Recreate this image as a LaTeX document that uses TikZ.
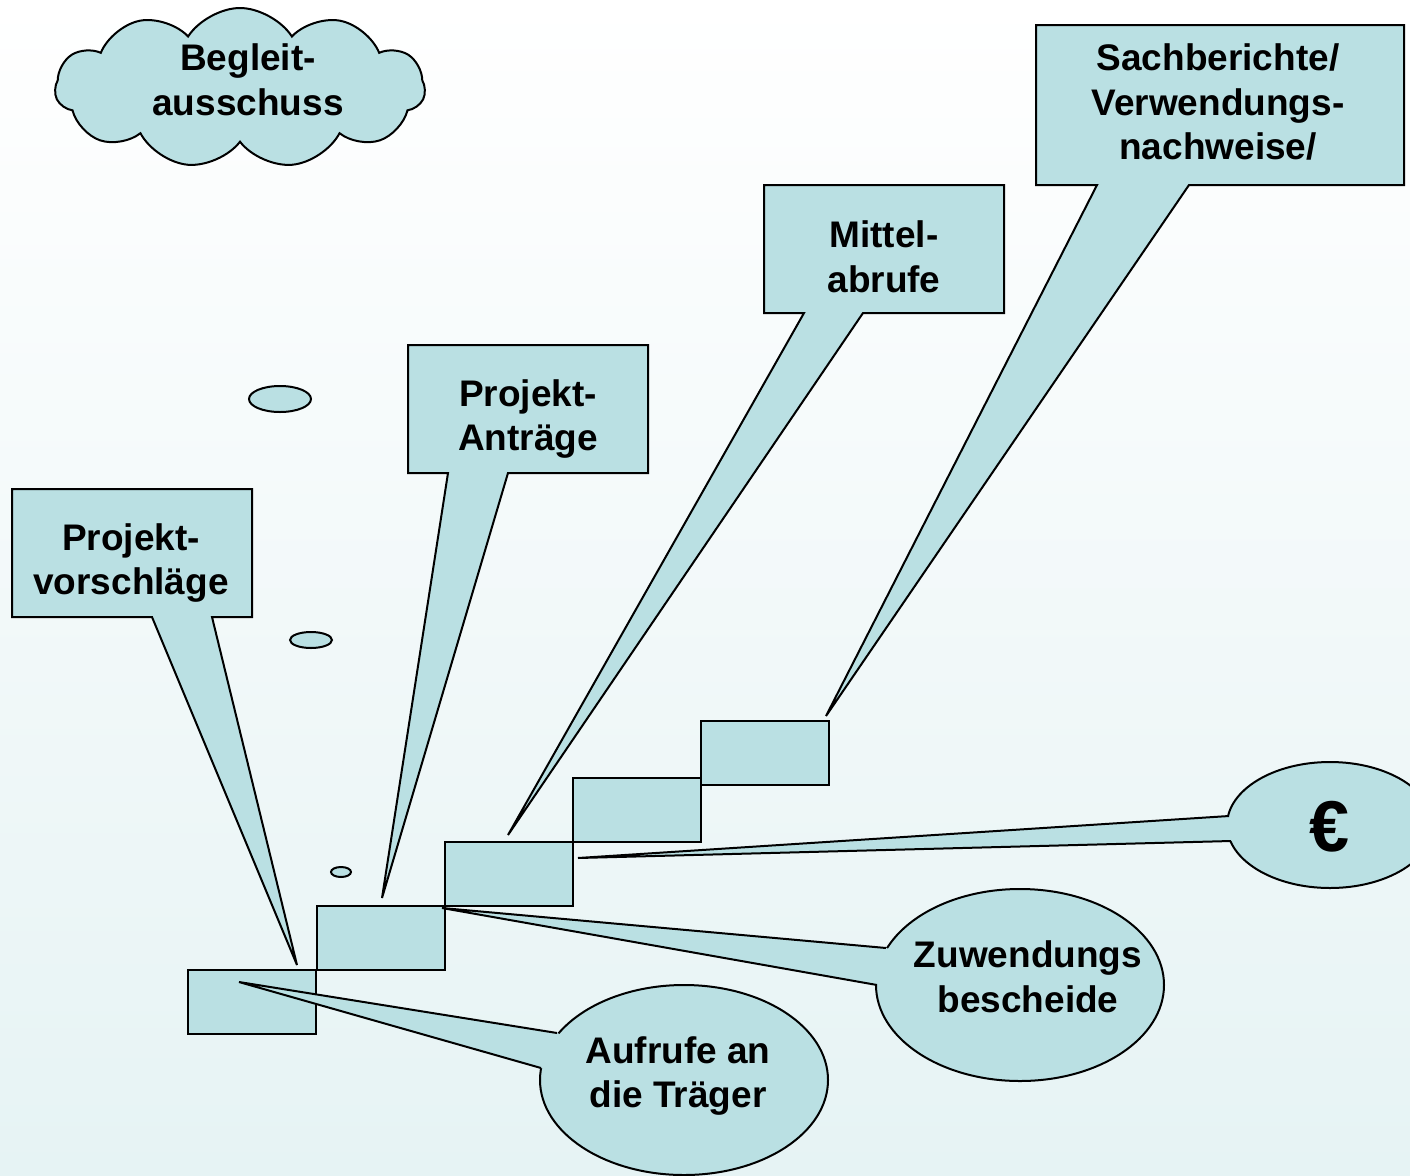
\documentclass[tikz,border=0pt]{standalone}
\usepackage{fontspec}
\setmainfont{Liberation Sans}
\usetikzlibrary{shapes.symbols,calc}
\definecolor{boxfill}{RGB}{186,224,227}
\definecolor{bgbottom}{RGB}{230,243,244}
\begin{document}
\begin{tikzpicture}[x=1pt,y=-1pt, line width=2pt,
  shp/.style={fill=boxfill, draw=black},
  lbl/.style={font=\bfseries\fontsize{37}{44.5}\selectfont, align=center, inner sep=0},
  stairbox/.style={shp, minimum width=128, minimum height=64, inner sep=0, anchor=north west}]
\useasboundingbox (0,0) rectangle (1410,1175);
\clip (0,0) rectangle (1410,1175);
\shade[top color=white, bottom color=bgbottom] (0,0) rectangle (1410,1175);

% cloud
\node[cloud, shp, cloud puffs=11, cloud puff arc=115, aspect=2.3, minimum width=370, minimum height=160, inner sep=0] (cloud) at (240,88) {};
\node[lbl] (cloudtxt) at (248,80) {Begleit-\\ausschuss};

% thought bubbles
\draw[shp] (280,399) ellipse [x radius=31, y radius=13];
\draw[shp] (311,640) ellipse [x radius=21, y radius=8];
\draw[shp] (341,872) ellipse [x radius=10, y radius=5];

% stairs
\node[stairbox] (s1) at (187,969) {};
\node[stairbox] (s2) at (316,905) {};
\node[stairbox] (s3) at (444,841) {};
\node[stairbox] (s4) at (572,777) {};
\node[stairbox] (s5) at (700,720) {};

% tips
\coordinate (tipA) at (297,965);
\coordinate (tipB) at (382,898);
\coordinate (tipC) at (508,835);
\coordinate (tipD) at (826,716);
\coordinate (tipE) at (578,858);
\coordinate (tipF) at (442,908);
\coordinate (tipG) at (239,982);

% rectangular callouts
\draw[shp] (12,489) -- (252,489) -- (252,617) -- (212,617) -- (tipA) -- (152,617) -- (12,617) -- cycle;
\node[lbl] (vorschl) at (131,563) {Projekt-\\vorschläge};

\draw[shp] (408,345) -- (648,345) -- (648,473) -- (508,473) -- (tipB) -- (448,473) -- (408,473) -- cycle;
\node[lbl] (antr) at (528,419) {Projekt-\\Anträge};

\draw[shp] (764,185) -- (1004,185) -- (1004,313) -- (863,313) -- (tipC) -- (804,313) -- (764,313) -- cycle;
\node[lbl] (mittel) at (884,257) {Mittel-\\abrufe};

\draw[shp] (1036,25) -- (1404,25) -- (1404,185) -- (1189,185) -- (tipD) -- (1097,185) -- (1036,185) -- cycle;
\node[lbl] (sach) at (1218,102) {Sachberichte/\\Verwendungs-\\nachweise/};

% oval callouts
% euro
\coordinate (ce) at (1330,825);
\coordinate (e1) at (1229,816);
\coordinate (e2) at (1231,841);
\draw[shp] (ce) ellipse [x radius=103, y radius=63];
\fill[boxfill] (tipE) -- (e1) -- ($(e1)!0.1!(ce)$) -- ($(e2)!0.1!(ce)$) -- (e2) -- cycle;
\draw (e1) -- (tipE) -- (e2);
\node[lbl] (euro) at (1330,827) {\fontsize{72}{72}\selectfont €};

% Zuwendungsbescheide
\coordinate (cz) at (1020,985);
\coordinate (z1) at (886,948);
\coordinate (z2) at (877,985);
\draw[shp] (cz) ellipse [x radius=144, y radius=96];
\fill[boxfill] (tipF) -- (z1) -- ($(z1)!0.1!(cz)$) -- ($(z2)!0.1!(cz)$) -- (z2) -- cycle;
\draw (z1) -- (tipF) -- (z2);
\node[lbl] (zuw) at (1028,977) {Zuwendungs\\bescheide};

% Aufrufe
\coordinate (ca) at (684,1080);
\coordinate (a1) at (557,1033);
\coordinate (a2) at (541,1068);
\draw[shp] (ca) ellipse [x radius=144, y radius=95];
\fill[boxfill] (tipG) -- (a1) -- ($(a1)!0.1!(ca)$) -- ($(a2)!0.1!(ca)$) -- (a2) -- cycle;
\draw (a1) -- (tipG) -- (a2);
\node[lbl] (aufr) at (678,1076) {Aufrufe an\\die Träger};
\end{tikzpicture}
\end{document}
